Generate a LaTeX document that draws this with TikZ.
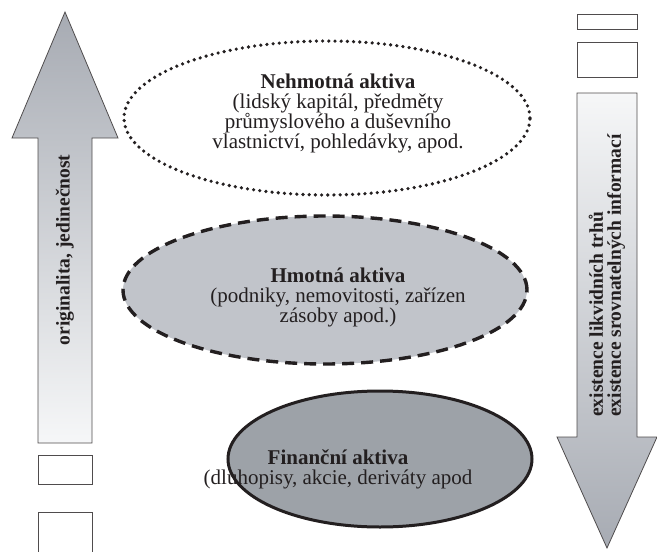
\documentclass[tikz,border=0pt]{standalone}
\usepackage{fontspec}
\setmainfont{Liberation Serif}
\usetikzlibrary{shapes.geometric}
\definecolor{ink}{HTML}{231F20}
\definecolor{arrowGray}{HTML}{A7ABB3}
\definecolor{arrowLight}{HTML}{F6F7F8}
\definecolor{midGray}{HTML}{C1C4CA}
\definecolor{darkGray}{HTML}{9DA2A8}
\tikzset{
  lab/.style={text=ink, font=\fontsize{21}{20}\selectfont, align=center, inner sep=0pt},
  sideLab/.style={text=ink, font=\fontsize{19.5}{18}\selectfont\bfseries, rotate=90, inner sep=0pt},
  arrowLine/.style={draw=ink!80, line width=0.8pt},
  box/.style={draw=ink!80, line width=0.8pt, fill=white, inner sep=0pt},
  dotEll/.style={ellipse, draw=ink, fill=white, line width=3.6pt, dash pattern=on 0pt off 6.2pt, line cap=round},
  dashEll/.style={ellipse, draw=ink, fill=midGray, line width=3.4pt, dash pattern=on 12pt off 7pt},
  solidEll/.style={ellipse, draw=ink, fill=darkGray, line width=3pt}
}

\begin{document}
\begin{tikzpicture}[x=1pt, y=-1pt]
\useasboundingbox (0,0) rectangle (657,552);
% left arrow
\shadedraw[arrowLine, top color=arrowGray, bottom color=arrowLight] (38,443) -- (38,138) -- (12,138) -- (65,12) -- (118,138) -- (92,138) -- (92,443) -- cycle;
\node[box, minimum width=54pt, minimum height=29pt] (leftBoxA) at (65,469.5) {};
\node[box, minimum width=54pt, minimum height=40pt] (leftBoxB) at (65,532) {};
% right arrow
\shadedraw[arrowLine, top color=arrowLight, bottom color=arrowGray] (577,93) -- (637,93) -- (637,437) -- (657,437) -- (607,548) -- (557,437) -- (577,437) -- cycle;
\node[box, minimum width=60pt, minimum height=15pt] (rightBoxA) at (607,21.5) {};
\node[box, minimum width=60pt, minimum height=35pt] (rightBoxB) at (607,59.5) {};
% ellipses
\node[dotEll, minimum width=406pt, minimum height=154pt] (nehm) at (327,118) {};
\node[dashEll, minimum width=404pt, minimum height=148pt] (hmot) at (325,290) {};
\node[solidEll, minimum width=304pt, minimum height=136pt] (fin) at (380,459) {};
\node[lab] (nehmText) at (338,113) {\textbf{Nehmotná aktiva}\\(lidský kapitál, předměty\\průmyslového a duševního\\vlastnictví, pohledávky, apod.};
\node[lab] (hmotText) at (338,297) {\textbf{Hmotná aktiva}\\(podniky, nemovitosti, zařízen\\zásoby apod.)};
\node[lab] (finText) at (338,469) {\textbf{Finanční aktiva}\\(dluhopisy, akcie, deriváty apod};
% side labels
\node[sideLab] (origLab) at (65,250) {originalita, jedinečnost};
\node[sideLab, align=left, anchor=west] (marketLab) at (607,417) {existence likvidních trhů\\existence srovnatelných informací};
\end{tikzpicture}
\end{document}
